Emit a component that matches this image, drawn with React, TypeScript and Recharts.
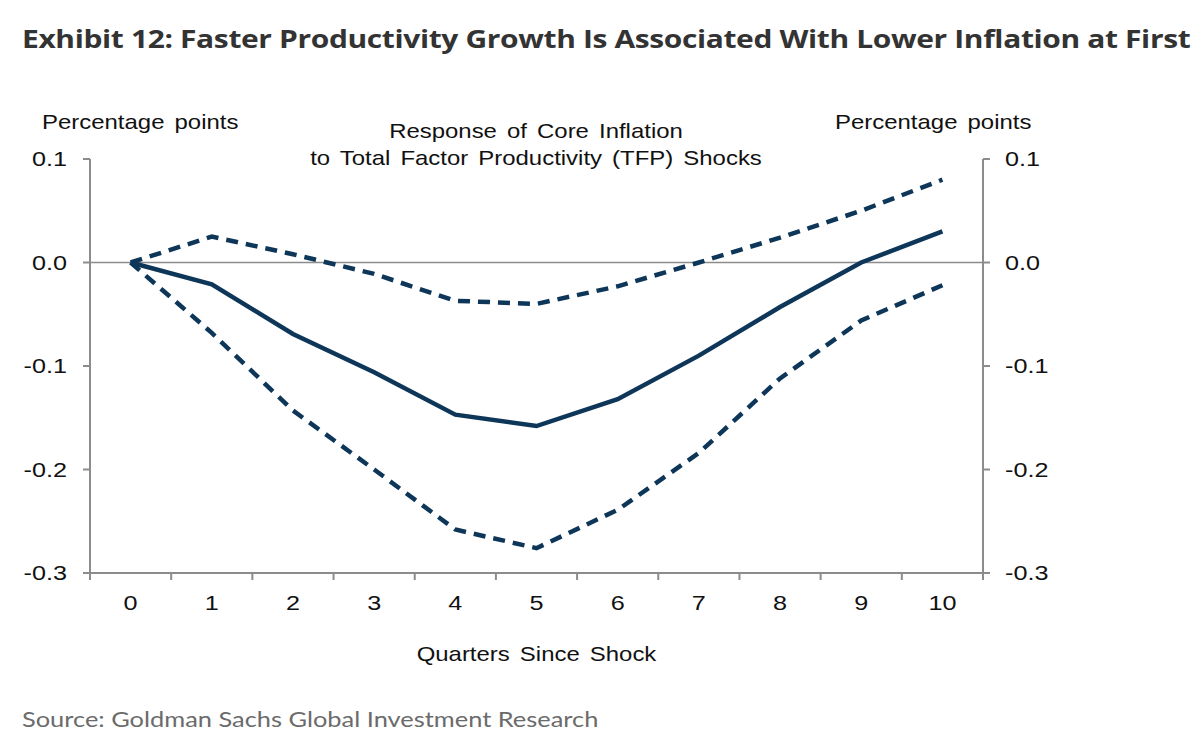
import { LineChart, Line, XAxis, YAxis, ReferenceLine } from "recharts";

const quarters = [0, 1, 2, 3, 4, 5, 6, 7, 8, 9, 10];
const response = [0, -0.021, -0.069, -0.106, -0.147, -0.158, -0.132, -0.09, -0.043, 0.0, 0.03];
const upperBand = [0, 0.025, 0.008, -0.011, -0.037, -0.04, -0.023, 0.0, 0.024, 0.05, 0.08];
const lowerBand = [0, -0.068, -0.143, -0.2, -0.258, -0.276, -0.239, -0.184, -0.112, -0.056, -0.022];
const yTicks = [-0.3, -0.2, -0.1, 0, 0.1];
const boundaryTicks = [-0.5, 0.5, 1.5, 2.5, 3.5, 4.5, 5.5, 6.5, 7.5, 8.5, 9.5, 10.5];

const data = quarters.map((q, i) => ({
  q,
  response: response[i],
  upper: upperBand[i],
  lower: lowerBand[i],
}));

const navy = "#0D3659";
const grey = "#8C8C8C";
const arial = "'Liberation Sans', Arial, sans-serif";
const stretch = 1.14;

// the reference is a bit wider than tall, so the labels get stretched too
function Tick(props: any) {
  const { x, y, payload, textAnchor, verticalAnchor, tickFormatter } = props;
  const label = tickFormatter ? tickFormatter(payload.value) : String(payload.value);
  const dy = verticalAnchor === "start" ? "0.71em" : "0.355em";
  return (
    <g transform={`translate(${x},${y}) scale(1.2,1)`}>
      <text textAnchor={textAnchor} dy={dy} fontSize={21} fill="#111" fontFamily={arial}>
        {label}
      </text>
    </g>
  );
}

const NoLabel = () => <g />;

const fmt = (v: number) => v.toFixed(1);

const textStyle: any = {
  position: "absolute",
  fontFamily: arial,
  fontSize: 21,
  color: "#111",
  whiteSpace: "nowrap",
  wordSpacing: 3,
};

export default function App() {
  return (
    <div style={{ position: "absolute", left: 0, top: 0, width: 1200, height: 748, background: "#fff", overflow: "hidden" }}>
      <div
        style={{
          position: "absolute",
          left: 22,
          top: 21,
          fontFamily: "'Open Sans', sans-serif",
          fontWeight: 700,
          fontSize: 25,
          color: "#333",
          whiteSpace: "nowrap",
          letterSpacing: -0.3,
          transform: "scaleX(1.198)",
          transformOrigin: "left top",
        }}
      >
        Exhibit 12: Faster Productivity Growth Is Associated With Lower Inflation at First
      </div>
      <div style={{ ...textStyle, left: 42, top: 110, transform: `scaleX(${stretch})`, transformOrigin: "left top" }}>
        Percentage points
      </div>
      <div style={{ ...textStyle, left: 835, top: 110, transform: `scaleX(${stretch})`, transformOrigin: "left top" }}>
        Percentage points
      </div>
      <div
        style={{
          ...textStyle,
          left: 285,
          width: 502,
          top: 117,
          textAlign: "center",
          lineHeight: "27px",
          transform: `scaleX(${stretch})`,
          transformOrigin: "center top",
        }}
      >
        Response of Core Inflation
        <br />
        to Total Factor Productivity (TFP) Shocks
      </div>
      <LineChart
        width={1200}
        height={748}
        data={data}
        margin={{ top: 159, left: 30, right: 157, bottom: 135 }}
        style={{ position: "absolute", left: 0, top: 0 }}
      >
        <XAxis
          xAxisId="marks"
          dataKey="q"
          type="number"
          domain={[-0.5, 10.5]}
          ticks={boundaryTicks}
          interval={0}
          tick={<NoLabel />}
          tickSize={7}
          height={1}
          axisLine={{ stroke: grey, strokeWidth: 2 }}
          tickLine={{ stroke: grey, strokeWidth: 2 }}
        />
        <XAxis
          xAxisId="q"
          dataKey="q"
          type="number"
          domain={[-0.5, 10.5]}
          ticks={quarters}
          interval={0}
          axisLine={false}
          tickLine={false}
          tickSize={0}
          tickMargin={21}
          height={39}
          tick={<Tick />}
        />
        <YAxis
          yAxisId="left"
          orientation="left"
          domain={[-0.3, 0.1]}
          ticks={yTicks}
          width={60}
          tickSize={7}
          tickMargin={16}
          axisLine={{ stroke: grey, strokeWidth: 2 }}
          tickLine={{ stroke: grey, strokeWidth: 2 }}
          tick={<Tick />}
          tickFormatter={fmt}
        />
        <YAxis
          yAxisId="right"
          orientation="right"
          domain={[-0.3, 0.1]}
          ticks={yTicks}
          width={60}
          tickSize={7}
          tickMargin={15}
          axisLine={{ stroke: grey, strokeWidth: 2 }}
          tickLine={{ stroke: grey, strokeWidth: 2 }}
          tick={<Tick />}
          tickFormatter={fmt}
        />
        <ReferenceLine y={0} yAxisId="left" xAxisId="q" stroke={grey} strokeWidth={1.5} />
        <Line
          xAxisId="q"
          yAxisId="left"
          dataKey="upper"
          stroke={navy}
          strokeWidth={4.5}
          strokeDasharray="12 8"
          dot={false}
          isAnimationActive={false}
        />
        <Line
          xAxisId="q"
          yAxisId="left"
          dataKey="lower"
          stroke={navy}
          strokeWidth={4.5}
          strokeDasharray="12 8"
          dot={false}
          isAnimationActive={false}
        />
        <Line
          xAxisId="marks"
          yAxisId="right"
          dataKey="response"
          stroke={navy}
          strokeWidth={4.5}
          dot={false}
          isAnimationActive={false}
        />
      </LineChart>
      <div
        style={{
          ...textStyle,
          left: 90,
          width: 893,
          top: 642,
          textAlign: "center",
          transform: `scaleX(${stretch})`,
          transformOrigin: "center top",
        }}
      >
        Quarters Since Shock
      </div>
      <div
        style={{
          position: "absolute",
          left: 22,
          top: 705,
          fontFamily: "Lato, sans-serif",
          fontSize: 22,
          color: "#6b6b6b",
          whiteSpace: "nowrap",
          transform: "scaleX(1.155)",
          transformOrigin: "left top",
        }}
      >
        Source: Goldman Sachs Global Investment Research
      </div>
    </div>
  );
}
